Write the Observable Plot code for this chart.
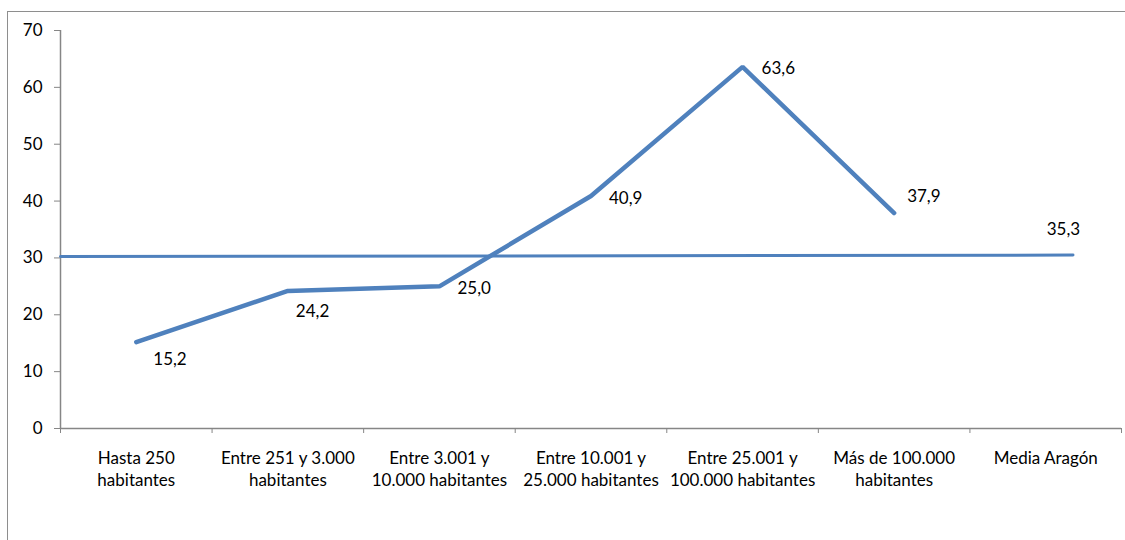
<!DOCTYPE html>
<html><head><meta charset="utf-8">
<script src="https://cdn.jsdelivr.net/npm/d3@7"></script>
<script src="https://cdn.jsdelivr.net/npm/@observablehq/plot@0.6"></script>
<style>
body{margin:0;background:#fff;}
#wrap{position:relative;width:1125px;height:540px;overflow:hidden;font-family:Lato,sans-serif;}
#frame{position:absolute;left:7px;top:11px;width:1200px;height:600px;border-left:1.5px solid #8e8e8e;border-top:1.5px solid #8e8e8e;}
#chart{position:absolute;left:0;top:0;}
</style></head><body><div id="wrap"><div id="frame"></div><div id="chart"></div></div>
<script>
const categories = ["Hasta 250\nhabitantes","Entre 251 y 3.000\nhabitantes","Entre 3.001 y\n10.000 habitantes","Entre 10.001 y\n25.000 habitantes","Entre 25.001 y\n100.000 habitantes","Más de 100.000\nhabitantes","Media Aragón"];
const values = [15.2, 24.2, 25.0, 40.9, 63.6, 37.9, 35.3];
const valueLabels = ["15,2","24,2","25,0","40,9","63,6","37,9","35,3"];
const lineCategories = [0,1,2,3,4,5];
const refLineX = [-0.5, 6.18];
const refLineY = [30.25, 30.5];
const yTicks = [0,10,20,30,40,50,60,70];
const xBoundaries = [-0.5,0.5,1.5,2.5,3.5,4.5,5.5,6.5];

const labelOffsets = [[17,17],[8,21],[18,2],[18,3],[19,2],[13,-16],[1,2]];
const blue = "#4F81BD";
const gray = "#868686";

const lineData = lineCategories.map(i => ({x:i, y:values[i]}));
const refData = refLineX.map((x,i) => ({x, y:refLineY[i]}));
const labelData = values.map((v,i) => ({x:i, y:v, label:valueLabels[i], dx:labelOffsets[i][0], dy:labelOffsets[i][1]}));

const marks = [
  Plot.ruleY([0], {x1:-0.5, x2:6.5, stroke:gray, strokeWidth:1.5}),
  Plot.ruleX([-0.5], {y1:0, y2:70, stroke:gray, strokeWidth:1.5}),
  Plot.axisY({ticks:yTicks, tickSize:6, tickPadding:12, stroke:gray, fill:"black", fontSize:17, label:null}),
  Plot.axisX({ticks:xBoundaries, tickSize:5, tickFormat:()=>"", stroke:gray, label:null}),
  Plot.text(categories, {x:(d,i)=>i, y:0, text:d=>d, dy:20, lineAnchor:"top", lineHeight:1.3, fontSize:17, fill:"black"}),
  Plot.line(refData, {x:"x", y:"y", stroke:blue, strokeWidth:3}),
  Plot.line(lineData, {x:"x", y:"y", stroke:blue, strokeWidth:4.5, strokeLinejoin:"miter"}),
];
labelData.forEach(d => {
  marks.push(Plot.text([d], {x:"x", y:"y", text:"label", dx:d.dx, dy:d.dy, textAnchor:"start", fontSize:17, fill:"black"}));
});

const chart = Plot.plot({
  width:1125, height:540,
  marginLeft:60, marginRight:4, marginTop:30, marginBottom:112,
  x:{type:"linear", domain:[-0.5,6.5], axis:null},
  y:{domain:[0,70], axis:null},
  style:{fontFamily:"Lato, sans-serif", fontSize:"17px", color:"black", background:"transparent"},
  marks
});
document.getElementById("chart").appendChild(chart);
</script></body></html>
